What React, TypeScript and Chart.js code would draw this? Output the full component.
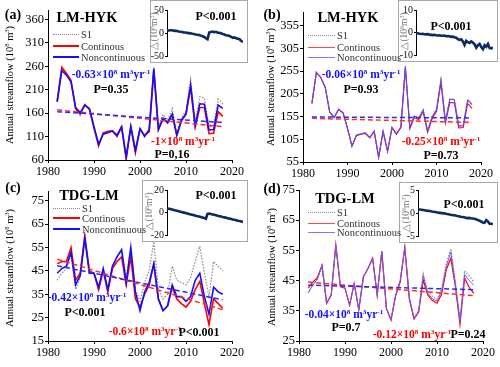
import React, { useEffect, useRef } from "react";
import { Chart, registerables } from "chart.js";
Chart.register(...registerables);

const SERIF = '"Liberation Serif", "Times New Roman", serif';

const years = [1982,1983,1984,1985,1986,1987,1988,1989,1990,1991,1992,1993,1994,1995,1996,1997,1998,1999,2000,2001,2002,2003,2004,2005,2006,2007,2008,2009,2010,2011,2012,2013,2014,2015,2016,2017,2018];
const trendYears = [1982, 2018];
const xTicks = [1980, 1990, 2000, 2010, 2020];

// (a) LM-HYK
const s1A = [184,255,243,228,168,155,176,170,130,92,117,120,123,112,132,66,133,80,128,111,126,257,130,157,145,170,118,150,165,232,140,195,192,130,133,190,180];
const contA = [186,258,245,230,170,158,178,168,128,90,118,121,122,110,130,62,130,75,126,113,120,250,125,147,141,157,113,143,157,215,130,172,172,116,117,163,153];
const noncontA = [184,251,241,227,172,161,177,170,131,94,115,118,122,113,131,67,132,81,127,110,125,255,125,149,139,158,113,145,159,220,134,180,179,124,125,177,170];
const trendContA = [167, 131];
const trendNoncontA = [163, 140];
const yTicksA = [60, 110, 160, 210, 260, 310, 360];

// (b) LM-HYK
const s1B = [184,252,241,219,165,153,171,163,129,90,114,117,119,109,123,66,123,79,131,117,132,266,132,157,152,170,124,155,171,236,146,194,193,135,136,192,182];
const contB = [184,252,241,219,165,153,171,163,129,90,113,116,118,108,122,65,122,78,130,116,131,262,128,153,148,166,120,150,166,230,140,186,185,130,131,184,173];
const noncontB = [184,252,241,219,165,153,171,163,129,90,114,117,119,109,123,66,123,79,131,117,132,265,131,156,151,169,123,154,170,235,145,193,192,134,135,191,181];
const trendContB = [151, 142];
const trendNoncontB = [154, 152];
const yTicksB = [55, 105, 155, 205, 255, 305, 355];

// (c) TDG-LM
const s1C = [41,44,46,52,37,42,58,44,44,37,46,37,47,51,54,42,55,37,32,40,45,57.5,37,33,35,47,41,40,39,42,49,55.5,44,34,49,47,45];
const contC = [48,49,49,55,41,44,60,45,44,37,45,36,46,49,51,39,51,33,29.5,35,39,48,33,28,30,38,33,31,29.5,32,37,40.5,31,22,33,31,29];
const noncontC = [44,46,47,53,39,43,59,44,44,38,46,37,47,51,54,40,55,36,28,36,40,48,33,28,30,39,34,34,32,34,41,44,34,26.5,38,36,35];
const trendContC = [50, 28.4];
const trendNoncontC = [47.2, 32.6];
const yTicksC = [15, 25, 35, 45, 55, 65, 75];

// (d) TDG-LM
const s1D = [41,43.5,45.5,50,37.5,40.2,56.8,43,42.5,36.9,44.1,35.3,46.3,49,52.4,40.2,54.8,35.8,32,40,45.2,56.3,39.3,32.8,35,47.2,41.5,39.8,38.8,42.3,50.5,55.5,44.7,32,48.3,46.5,44.6];
const contD = [42.5,44.5,46,50,37.5,40.2,56.8,43,42.5,36.9,44.1,35.3,46.3,49,52.4,40.2,54.6,35.8,32,40,44.5,55.7,38.8,32.3,34.5,45.2,40.2,38.4,37.5,40.5,48.5,52.4,43,30.5,45.8,42.8,40.8];
const noncontD = [41,43.5,45.5,50,37.5,40.2,56.8,43,42.5,36.9,44.1,35.3,46.3,49,52.4,40.2,54.6,35.8,32,40,45,56,39.1,32.5,34.7,46.7,40.8,39,38.2,41.5,49.5,54.5,43.8,31.5,47,45,43.5];
const trendContD = [44.5, 40];
const trendNoncontD = [43.5, 42];
const yTicksD = [25, 35, 45, 55, 65, 75];

// insets: Δ (10^8 m^3)
const insetA = [5.6,6.5,7,7,6,5.5,5,4,3.5,3,2,2,1,0.5,0,-1,-1.5,-2.5,-3,-3.5,-5,-6.5,-8,-10.5,-13,2,3,4,2.5,3.5,1.5,1,0,-1.5,-2.5,-4,-5,-6,-8,-10,-9,-11,-12,-13,-17,-19];
const insetTicksA = [-50, 0, 50];
const insetB = [0,-0.2,-0.4,-0.5,-0.4,-0.6,-0.7,-0.6,-0.8,-0.9,-1.0,-0.9,-1.1,-1.2,-1.1,-1.3,-1.3,-1.2,-1.5,-1.4,-1.5,-1.8,-1.7,-2.0,-2.2,-2.8,-3.2,-2.9,-3.9,-5.4,-3.6,-4.2,-4.6,-3.9,-4.4,-5.2,-6.7,-5.6,-5.0,-6.4,-7.4,-5.6,-6.3,-5.0,-6.9,-7.0,-6.6];
const insetTicksB = [-10, 0, 10];
const insetC = [4.2,3.8,3.4,3.0,2.6,2.2,1.8,1.4,1.0,0.6,0.2,-0.2,-0.6,-1.0,-1.4,-1.8,-2.2,-2.6,-3.0,-3.4,-3.8,-4.2,-4.7,-5.3,-1.0,-0.6,-1.0,-1.4,-1.8,-2.2,-2.6,-3.0,-3.4,-3.8,-4.1,-4.5,-4.9,-5.2,-5.6,-6.0,-6.3,-6.7,-7.1,-7.4,-7.8,-8.2];
const insetTicksC = [-20, 0, 20];
const insetD = [0.9,0.85,0.8,0.75,0.7,0.6,0.55,0.5,0.4,0.35,0.3,0.25,0.15,0.1,0.05,0,-0.05,-0.15,-0.2,-0.3,-0.35,-0.4,-0.5,-0.6,-0.65,-0.75,-0.8,-0.85,-0.95,-1.05,-1.0,-1.1,-1.15,-1.2,-1.3,-1.45,-1.6,-1.8,-2.0,-2.1,-1.5,-1.8,-2.3,-2.3,-2.35];
const insetTicksD = [-5, 0, 5];

const panels = [
  { key: "a", left: 0, top: 0, w: 250, h: 180, pad: { left: 0, right: 18, top: 10, bottom: 0 }, yW: 48, xH: 20, yMin: 60, yMax: 380, yTicks: yTicksA, s1: s1A, cont: contA, noncont: noncontA, tC: trendContA, tN: trendNoncontA, blue: "#1010ff", redW: 1.6, blueW: 1.6 },
  { key: "b", left: 250, top: 0, w: 250, h: 180, pad: { left: 0, right: 19, top: 12, bottom: 0 }, yW: 53, xH: 18, yMin: 55, yMax: 385, yTicks: yTicksB, s1: s1B, cont: contB, noncont: noncontB, tC: trendContB, tN: trendNoncontB, blue: "#5a4cff", redW: 1.1, blueW: 1.1 },
  { key: "c", left: 0, top: 180, w: 250, h: 180, pad: { left: 0, right: 18, top: 11.4, bottom: 0 }, yW: 48, xH: 19, yMin: 15, yMax: 79, yTicks: yTicksC, s1: s1C, cont: contC, noncont: noncontC, tC: trendContC, tN: trendNoncontC, blue: "#1010ff", redW: 1.6, blueW: 1.6 },
  { key: "d", left: 250, top: 180, w: 250, h: 180, pad: { left: 0, right: 17, top: 10, bottom: 0 }, yW: 49, xH: 19, yMin: 25, yMax: 75, yTicks: yTicksD, s1: s1D, cont: contD, noncont: noncontD, tC: trendContD, tN: trendNoncontD, blue: "#6a5cff", redW: 1.2, blueW: 1.0 },
];

const insets = [
  { key: "ia", left: 150, top: 0, w: 98, h: 63, yW: 17, pad: { left: 0, right: 5, top: 10.7, bottom: 5.7 }, min: -50, max: 50, ticks: insetTicksA, data: insetA },
  { key: "ib", left: 398, top: 0, w: 100, h: 62, yW: 18, pad: { left: 0, right: 5, top: 10.7, bottom: 4.7 }, min: -10, max: 10, ticks: insetTicksB, data: insetB },
  { key: "ic", left: 142, top: 180, w: 106, h: 62, yW: 25, pad: { left: 0, right: 5, top: 10.7, bottom: 4.7 }, min: -20, max: 20, ticks: insetTicksC, data: insetC },
  { key: "id", left: 399, top: 182, w: 99, h: 61, yW: 19, pad: { left: 0, right: 5, top: 8.7, bottom: 6.3 }, min: -5, max: 5, ticks: insetTicksD, data: insetD },
];

const plain = (v: any) => String(v);

function MainChart({ p }: { p: any }) {
  const ref = useRef<HTMLCanvasElement | null>(null);
  useEffect(() => {
    const pts = (ys: number[], xs: number[]) => xs.map((x, i) => ({ x, y: ys[i] }));
    const chart = new Chart(ref.current as HTMLCanvasElement, {
      type: "line",
      data: {
        datasets: [
          { label: "S1", data: pts(p.s1, years), borderColor: "#8a8a8a", borderWidth: 1.2, borderDash: [1.5, 1.5], pointRadius: 0, order: 5 },
          { label: "Continous", data: pts(p.cont, years), borderColor: "#ff0000", borderWidth: p.redW, pointRadius: 0, order: 4 },
          { label: "Noncontinuous", data: pts(p.noncont, years), borderColor: p.blue, borderWidth: p.blueW, pointRadius: 0, order: 3 },
          { label: "Trend continous", data: pts(p.tC, trendYears), borderColor: "#ff2a2a", borderWidth: 1.5, borderDash: [5, 3], pointRadius: 0, order: 2 },
          { label: "Trend noncontinuous", data: pts(p.tN, trendYears), borderColor: "#2a2aff", borderWidth: 1.5, borderDash: [5, 3], pointRadius: 0, order: 1 },
        ] as any,
      },
      options: {
        responsive: false,
        animation: false,
        devicePixelRatio: 1,
        layout: { padding: p.pad },
        plugins: { legend: { display: false }, tooltip: { enabled: false }, title: { display: false } },
        scales: {
          x: {
            type: "linear", min: 1980, max: 2020,
            afterBuildTicks: (s: any) => { s.ticks = xTicks.map((v) => ({ value: v })); },
            afterFit: (s: any) => { s.height = p.xH; },
            grid: { drawOnChartArea: false, drawTicks: true, tickLength: 3, color: "#000" },
            border: { display: true, color: "#000", width: 1 },
            ticks: { font: { family: SERIF, size: 12 }, color: "#000", padding: 2, maxRotation: 0, autoSkip: false, callback: plain },
          },
          y: {
            type: "linear", min: p.yMin, max: p.yMax,
            afterBuildTicks: (s: any) => { s.ticks = p.yTicks.map((v: number) => ({ value: v })); },
            afterFit: (s: any) => { s.width = p.yW; },
            grid: { drawOnChartArea: false, drawTicks: true, tickLength: 3, color: "#000" },
            border: { display: true, color: "#000", width: 1 },
            ticks: { font: { family: SERIF, size: 12.5 }, color: "#000", padding: 1, autoSkip: false, callback: plain },
          },
        },
      } as any,
    });
    return () => chart.destroy();
  }, []);
  return <canvas ref={ref} width={p.w} height={p.h} style={{ position: "absolute", left: p.left, top: p.top, width: p.w, height: p.h }} />;
}

function InsetChart({ q }: { q: any }) {
  const ref = useRef<HTMLCanvasElement | null>(null);
  useEffect(() => {
    const chart = new Chart(ref.current as HTMLCanvasElement, {
      type: "line",
      data: {
        datasets: [
          { label: "Δ", data: q.data.map((v: number, i: number) => ({ x: i, y: v })), borderColor: "#0f2a5e", borderWidth: 2.6, pointRadius: 0, tension: 0 },
        ] as any,
      },
      options: {
        responsive: false,
        animation: false,
        devicePixelRatio: 1,
        layout: { padding: q.pad },
        plugins: { legend: { display: false }, tooltip: { enabled: false } },
        scales: {
          x: { type: "linear", display: false, min: 0, max: q.data.length - 1 },
          y: {
            type: "linear", display: true, min: q.min, max: q.max,
            afterBuildTicks: (s: any) => { s.ticks = q.ticks.map((v: number) => ({ value: v })); },
            afterFit: (s: any) => { s.width = q.yW; },
            grid: { drawOnChartArea: false, drawTicks: true, tickLength: 2, color: "#000" },
            border: { display: true, color: "#000", width: 1 },
            ticks: { display: true, font: { family: SERIF, size: 10 }, color: "#111", padding: 1, autoSkip: false, callback: plain },
          },
        },
      } as any,
    });
    return () => chart.destroy();
  }, []);
  return (
    <>
      <div style={{ position: "absolute", left: q.left, top: q.top, width: q.w - 2, height: q.h - 2, border: "1px solid #a8a8a8", background: "#fff" }} />
      <canvas ref={ref} width={q.w} height={q.h} style={{ position: "absolute", left: q.left, top: q.top, width: q.w, height: q.h }} />
    </>
  );
}

const Sup = ({ c }: { c: string }) => (
  <span style={{ fontSize: "0.62em", verticalAlign: "0.55em", lineHeight: 0 }}>{c}</span>
);

function T({ x, y, s, b, c, rot, children }: any) {
  return (
    <div style={{ position: "absolute", left: x, top: y, transform: `translate(-50%,-50%)${rot ? " rotate(-90deg)" : ""}`, fontFamily: SERIF, fontSize: s, fontWeight: b ? "bold" : "normal", color: c || "#000", whiteSpace: "nowrap", lineHeight: 1 }}>
      {children}
    </div>
  );
}

const Rate = ({ v }: { v: string }) => (
  <>{v}×10<Sup c="8" /> m<Sup c="3" />yr<Sup c="-1" /></>
);

function Legend({ x, ys, lineW, strong }: { x: number; ys: number[]; lineW: number; strong: boolean }) {
  const items = [
    { t: "S1", st: "1.5px dotted #8a8a8a" },
    { t: "Continous", st: `${strong ? 2 : 1.5}px solid ${strong ? "#ff0000" : "#ff4a4a"}` },
    { t: "Noncontinuous", st: `${strong ? 2 : 1.5}px solid ${strong ? "#1010ff" : "#7a7aff"}` },
  ];
  return (
    <>
      {items.map((it, i) => (
        <div key={it.t} style={{ position: "absolute", left: x, top: ys[i] - 6, height: 12, display: "flex", alignItems: "center", fontFamily: SERIF, fontSize: 10.5, color: "#333", whiteSpace: "nowrap" }}>
          <div style={{ width: lineW, height: 0, borderTop: it.st }} />
          <span style={{ marginLeft: 2 }}>{it.t}</span>
        </div>
      ))}
    </>
  );
}

const YT = "Annual streamflow (10";

export default function App() {
  return (
    <div style={{ position: "absolute", left: 0, top: 0, width: 500, height: 367, background: "#fff", overflow: "hidden" }}>
      {panels.map((p) => <MainChart key={p.key} p={p} />)}
      {insets.map((q) => <InsetChart key={q.key} q={q} />)}

      {/* y-axis titles */}
      <T x={10} y={85} s={10.5} rot>{YT}<Sup c="8" /> m<Sup c="3" />)</T>
      <T x={271} y={87} s={10.5} rot>{YT}<Sup c="8" /> m<Sup c="3" />)</T>
      <T x={10} y={268} s={10.5} rot>{YT}<Sup c="8" /> m<Sup c="3" />)</T>
      <T x={272} y={267} s={10.5} rot>{YT}<Sup c="8" /> m<Sup c="3" />)</T>

      {/* inset y titles */}
      <T x={155} y={31} s={9.5} c="#777" rot>△(10<Sup c="8" />m<Sup c="3" />)</T>
      <T x={405} y={31} s={9.5} c="#777" rot>△(10<Sup c="8" />m<Sup c="3" />)</T>
      <T x={150} y={211} s={9.5} c="#777" rot>△(10<Sup c="8" />m<Sup c="3" />)</T>
      <T x={407} y={213} s={9.5} c="#777" rot>△(10<Sup c="8" />m<Sup c="3" />)</T>

      {/* inset P */}
      <T x={216} y={16} s={12} b>P&lt;0.001</T>
      <T x={451} y={26} s={12} b>P&lt;0.001</T>
      <T x={216} y={195} s={12} b>P&lt;0.001</T>
      <T x={464} y={204} s={12} b>P&lt;0.001</T>

      {/* panel letters and titles */}
      <T x={13} y={15} s={14} b>(a)</T>
      <T x={272} y={15} s={14} b>(b)</T>
      <T x={13} y={188} s={14} b>(c)</T>
      <T x={272} y={189} s={14} b>(d)</T>
      <T x={87} y={17} s={14.5} b>LM-HYK</T>
      <T x={348} y={17} s={14.5} b>LM-HYK</T>
      <T x={89} y={195} s={14.5} b>TDG-LM</T>
      <T x={345} y={198} s={14.5} b>TDG-LM</T>

      {/* legends */}
      <Legend x={53} ys={[34, 46, 57]} lineW={26} strong />
      <Legend x={308} ys={[35, 47, 57]} lineW={27} strong={false} />
      <Legend x={53} ys={[208, 218, 229]} lineW={27} strong />
      <Legend x={308} ys={[212, 223, 232]} lineW={27} strong={false} />

      {/* trend annotations */}
      <T x={111} y={75} s={11.5} b c="#1010ff"><Rate v="-0.63" /></T>
      <T x={111} y={89} s={12} b>P=0.35</T>
      <T x={183} y={142} s={11.5} b c="#ff0000"><Rate v="-1" /></T>
      <T x={172} y={154} s={12} b>P=0,16</T>

      <T x={361} y={75} s={11.5} b c="#1010ff"><Rate v="-0.06" /></T>
      <T x={361} y={89} s={12} b>P=0.93</T>
      <T x={441} y={142} s={11.5} b c="#ff0000"><Rate v="-0.25" /></T>
      <T x={441} y={155} s={12} b>P=0.73</T>

      <T x={87} y={298} s={11.5} b c="#1010ff"><Rate v="-0.42" /></T>
      <T x={85} y={312} s={12} b>P&lt;0.001</T>
      <T x={145} y={332} s={11.5} b c="#ff0000"><Rate v="-0.6" /></T>
      <T x={199} y={332} s={12} b>P&lt;0.001</T>

      <T x={344} y={315} s={11.5} b c="#1010ff"><Rate v="-0.04" /></T>
      <T x={346} y={327} s={12} b>P=0.7</T>
      <T x={412} y={335} s={11.5} b c="#ff0000"><Rate v="-0.12" /></T>
      <T x={468} y={334} s={12} b>P=0.24</T>
    </div>
  );
}
